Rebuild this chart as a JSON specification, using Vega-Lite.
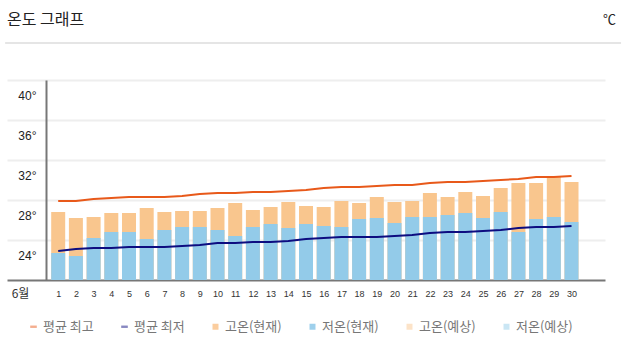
{
  "$schema": "https://vega.github.io/schema/vega-lite/v6.json",
  "width": 598,
  "height": 200,
  "autosize": {"type": "none"},
  "padding": {"left": 7, "top": 80, "right": 21, "bottom": 67},
  "background": "white",
  "title": {
    "text": "온도 그래프",
    "anchor": "start",
    "frame": "group",
    "font": "Noto Sans CJK KR",
    "fontSize": 16,
    "fontWeight": "normal",
    "color": "#222222",
    "baseline": "middle",
    "offset": 0,
    "dy": 23
  },
  "config": {
    "view": {"stroke": null},
    "axis": {"labelFont": "Liberation Sans", "titleFont": "Noto Sans CJK KR", "labelOverlap": false}
  },
  "datasets": {
    "days": [
      {"day": 1, "hi": 26.8, "lo": 22.7, "ahi": 27.9, "alo": 22.9},
      {"day": 2, "hi": 26.2, "lo": 22.4, "ahi": 27.9, "alo": 23.1},
      {"day": 3, "hi": 26.3, "lo": 24.2, "ahi": 28.1, "alo": 23.2},
      {"day": 4, "hi": 26.7, "lo": 24.8, "ahi": 28.2, "alo": 23.2},
      {"day": 5, "hi": 26.7, "lo": 24.8, "ahi": 28.3, "alo": 23.3},
      {"day": 6, "hi": 27.2, "lo": 24.1, "ahi": 28.3, "alo": 23.3},
      {"day": 7, "hi": 26.8, "lo": 25.0, "ahi": 28.3, "alo": 23.3},
      {"day": 8, "hi": 26.9, "lo": 25.3, "ahi": 28.4, "alo": 23.4},
      {"day": 9, "hi": 26.9, "lo": 25.3, "ahi": 28.6, "alo": 23.5},
      {"day": 10, "hi": 27.2, "lo": 25.0, "ahi": 28.7, "alo": 23.7},
      {"day": 11, "hi": 27.7, "lo": 24.4, "ahi": 28.7, "alo": 23.7},
      {"day": 12, "hi": 27.0, "lo": 25.3, "ahi": 28.8, "alo": 23.8},
      {"day": 13, "hi": 27.3, "lo": 25.6, "ahi": 28.8, "alo": 23.8},
      {"day": 14, "hi": 27.8, "lo": 25.2, "ahi": 28.9, "alo": 23.9},
      {"day": 15, "hi": 27.4, "lo": 25.6, "ahi": 29.0, "alo": 24.1},
      {"day": 16, "hi": 27.3, "lo": 25.4, "ahi": 29.2, "alo": 24.2},
      {"day": 17, "hi": 27.9, "lo": 25.3, "ahi": 29.3, "alo": 24.3},
      {"day": 18, "hi": 27.7, "lo": 26.1, "ahi": 29.3, "alo": 24.3},
      {"day": 19, "hi": 28.3, "lo": 26.2, "ahi": 29.4, "alo": 24.3},
      {"day": 20, "hi": 27.8, "lo": 25.7, "ahi": 29.5, "alo": 24.4},
      {"day": 21, "hi": 27.9, "lo": 26.3, "ahi": 29.5, "alo": 24.5},
      {"day": 22, "hi": 28.7, "lo": 26.3, "ahi": 29.7, "alo": 24.7},
      {"day": 23, "hi": 28.3, "lo": 26.5, "ahi": 29.8, "alo": 24.8},
      {"day": 24, "hi": 28.8, "lo": 26.7, "ahi": 29.8, "alo": 24.8},
      {"day": 25, "hi": 28.4, "lo": 26.2, "ahi": 29.9, "alo": 24.9},
      {"day": 26, "hi": 29.2, "lo": 26.8, "ahi": 30.0, "alo": 25.0},
      {"day": 27, "hi": 29.7, "lo": 24.8, "ahi": 30.1, "alo": 25.2},
      {"day": 28, "hi": 29.7, "lo": 26.1, "ahi": 30.3, "alo": 25.3},
      {"day": 29, "hi": 30.3, "lo": 26.3, "ahi": 30.3, "alo": 25.3},
      {"day": 30, "hi": 29.8, "lo": 25.8, "ahi": 30.4, "alo": 25.4}
    ],
    "series": [
      {"s": "평균 최고"},
      {"s": "평균 최저"},
      {"s": "고온(현재)"},
      {"s": "저온(현재)"},
      {"s": "고온(예상)"},
      {"s": "저온(예상)"}
    ],
    "sep": [{"x1": -2.0, "x2": 32.8, "yv": 43.7}]
  },
  "layer": [
    {
      "data": {"name": "sep"},
      "mark": {"type": "rule", "color": "#dddddd", "strokeWidth": 1.5, "clip": false},
      "encoding": {
        "x": {
          "field": "x1",
          "type": "quantitative",
          "scale": {"domain": [-1.61, 31.61], "nice": false, "zero": false},
          "axis": {
            "title": "6월",
            "titleX": 13,
            "titleY": 13,
            "titleAlign": "center",
            "titleBaseline": "middle",
            "titleFontSize": 12,
            "titleFontWeight": "normal",
            "titleColor": "#333333",
            "values": [1,2,3,4,5,6,7,8,9,10,11,12,13,14,15,16,17,18,19,20,21,22,23,24,25,26,27,28,29,30],
            "tickCount": 60,
            "format": "d",
            "ticks": false,
            "grid": false,
            "domainColor": "#777777",
            "domainWidth": 2,
            "labelFontSize": 9,
            "labelColor": "#333333",
            "labelPadding": 9,
            "labelFlush": false,
            "labelOverlap": false,
            "labelBound": false
          }
        },
        "x2": {"field": "x2"},
        "y": {
          "field": "yv",
          "type": "quantitative",
          "scale": {"domain": [20, 40], "nice": false, "zero": false},
          "axis": {
            "title": "℃",
            "titleAngle": 0,
            "titleX": 563,
            "titleY": -61,
            "titleAlign": "center",
            "titleBaseline": "middle",
            "titleFontSize": 13,
            "titleFontWeight": "normal",
            "titleColor": "#222222",
            "offset": -39,
            "values": [24, 28, 32, 36, 40],
            "tickCount": 20,
            "labelExpr": "datum.value + '°'",
            "ticks": false,
            "grid": true,
            "gridColor": "#eeeeee",
            "gridWidth": 2,
            "domainColor": "#777777",
            "domainWidth": 2,
            "labelFontSize": 12,
            "labelColor": "#222222",
            "labelPadding": 10,
            "labelOffset": 15,
            "labelBaseline": "middle",
            "labelFlush": false,
            "labelOverlap": false
          }
        }
      }
    },
    {
      "data": {"name": "days"},
      "mark": {"type": "bar", "color": "#f9c68e", "size": 14},
      "encoding": {
        "x": {"field": "day", "type": "quantitative"},
        "y": {"field": "hi", "type": "quantitative"},
        "y2": {"datum": 20}
      }
    },
    {
      "data": {"name": "days"},
      "mark": {"type": "bar", "color": "#93cbe9", "size": 14},
      "encoding": {
        "x": {"field": "day", "type": "quantitative"},
        "y": {"field": "lo", "type": "quantitative"},
        "y2": {"datum": 20}
      }
    },
    {
      "data": {"name": "days"},
      "mark": {"type": "line", "color": "#e8591a", "strokeWidth": 2},
      "encoding": {
        "x": {"field": "day", "type": "quantitative"},
        "y": {"field": "ahi", "type": "quantitative"}
      }
    },
    {
      "data": {"name": "days"},
      "mark": {"type": "line", "color": "#0d0d80", "strokeWidth": 2},
      "encoding": {
        "x": {"field": "day", "type": "quantitative"},
        "y": {"field": "alo", "type": "quantitative"}
      }
    },
    {
      "data": {"name": "series"},
      "transform": [{"filter": "false"}],
      "mark": {"type": "point", "filled": true},
      "encoding": {
        "color": {
          "field": "s",
          "type": "nominal",
          "scale": {
            "domain": ["평균 최고", "평균 최저", "고온(현재)", "저온(현재)", "고온(예상)", "저온(예상)"],
            "range": ["#e8591a", "#0d0d80", "#f7993a", "#3a9fd8", "#f9c68e", "#93cbe9"]
          },
          "legend": {
            "title": null,
            "orient": "none",
            "direction": "horizontal",
            "legendX": 20,
            "legendY": 240,
            "padding": 0,
            "symbolOpacity": 1,
            "symbolSize": 36,
            "symbolStrokeWidth": 0,
            "labelFont": "Noto Sans CJK KR",
            "labelFontSize": 13,
            "labelColor": "#777777",
            "labelOffset": 3,
            "columnPadding": 24
          }
        },
        "shape": {
          "field": "s",
          "type": "nominal",
          "scale": {
            "domain": ["평균 최고", "평균 최저", "고온(현재)", "저온(현재)", "고온(예상)", "저온(예상)"],
            "range": ["M-1.1,-0.4H1.1V0.4H-1.1Z", "M-1.1,-0.4H1.1V0.4H-1.1Z", "square", "square", "square", "square"]
          },
          "legend": {"title": null}
        }
      }
    }
  ]
}
